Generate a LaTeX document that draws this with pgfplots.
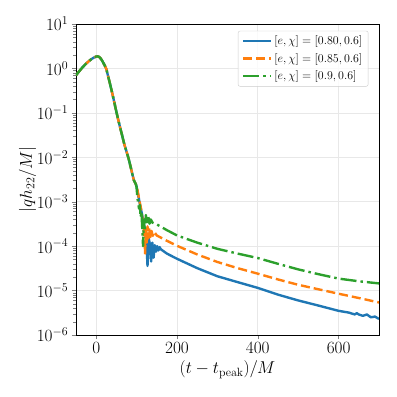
\documentclass[border=0pt]{standalone}
\usepackage{pgfplots}
\pgfplotsset{compat=1.18}
\definecolor{tabblue}{HTML}{1F77B4}
\definecolor{taborange}{HTML}{FF7F0E}
\definecolor{tabgreen}{HTML}{2CA02C}

\begin{document}
\begin{tikzpicture}
\path (-76bp,-62bp) rectangle (321bp,335bp);
\begin{axis}[
  at={(0bp,0bp)}, anchor=south west,
  scale only axis, width=303bp, height=311bp,
  ymode=log, xmin=-50, xmax=700, ymin=1e-6, ymax=10,
  xtick={0,200,400,600}, ytick={1e-6,1e-5,1e-4,1e-3,1e-2,1e-1,1,10},
  tick align=outside, xtick pos=bottom, ytick pos=left,
  grid=major, major grid style={black!9, line width=0.6pt},
  axis line style={line width=0.8pt},
  tick label style={font=\fontsize{16.5}{19}\selectfont},
  label style={font=\fontsize{17.5}{21}\selectfont},
  xlabel={$(t - t_{\mathrm{peak}})/M$},
  ylabel={$|q h_{22}/M|$},
  xlabel style={at={(axis description cs:0.5,-0.112)}, anchor=center},
  ylabel style={at={(axis description cs:-0.16,0.5)}, anchor=center},
  legend style={at={(0.965,0.978)}, anchor=north east,
    font=\fontsize{12.5}{15}\selectfont, draw=black!20, rounded corners=2pt,
    fill=white, fill opacity=0.8, text opacity=1, inner xsep=4pt, inner ysep=3pt,
    row sep=3pt},
  legend cell align=left,
  legend image code/.code={\draw[#1] (0bp,0bp) -- (28bp,0bp);},
  every axis plot/.append style={line width=2.4pt, line join=round},
]
% e = 0.80
\addplot[tabblue, solid] coordinates {
(-50,0.70)(-45,0.80)(-40,0.91)(-35,1.03)(-30,1.15)(-25,1.28)(-20,1.41)(-15,1.54)(-10,1.66)(-5,1.77)(0,1.85)(3,1.87)(6,1.84)(9,1.76)(12,1.63)(15,1.48)(18,1.32)(21,1.17)(25,0.98)(30,0.64)(35,0.42)(40,0.27)(45,0.17)(50,0.105)(55,0.067)(60,0.044)(65,0.029)(70,0.019)(75,0.0135)(80,0.0095)(85,0.0062)(90,0.0040)(93,0.0031)(96,0.0027)(98,0.0025)
(100,2.2e-3)(104,1.4e-3)(108,9e-4)(112,6e-4)(116,4e-4)(120,2.5e-4)(124,1.5e-4)(127,3.6e-5)(130,1.5e-4)(133,1.1e-4)(136,4.5e-5)(139,1.2e-4)(142,5.5e-5)(145,1.05e-4)(148,7.5e-5)(151,1.0e-4)(154,8e-5)(157,9.5e-5)(160,8.5e-5)(165,7.9e-5)
(175,6.8e-5)(200,5.2e-5)(250,3.2e-5)(300,2.1e-5)(350,1.55e-5)(400,1.15e-5)(450,8.1e-6)(500,6.0e-6)(550,4.6e-6)(600,3.5e-6)(625,3.2e-6)(640,2.9e-6)(645,3.1e-6)(650,2.9e-6)(660,2.7e-6)(670,2.9e-6)(680,2.5e-6)(690,2.6e-6)(700,2.3e-6)
};
\addlegendentry{$[e,\chi] = [0.80, 0.6]$}
% e = 0.85
\addplot[taborange, dash pattern=on 9bp off 4bp] coordinates {
(-50,0.70)(-45,0.80)(-40,0.91)(-35,1.03)(-30,1.15)(-25,1.28)(-20,1.41)(-15,1.54)(-10,1.66)(-5,1.77)(0,1.85)(3,1.87)(6,1.84)(9,1.76)(12,1.63)(15,1.48)(18,1.32)(21,1.17)(25,0.98)(30,0.64)(35,0.42)(40,0.27)(45,0.17)(50,0.105)(55,0.067)(60,0.044)(65,0.029)(70,0.019)(75,0.0135)(80,0.0095)(85,0.0062)(90,0.0040)(93,0.0031)(96,0.0027)(98,0.0025)
(100,2.3e-3)(104,1.5e-3)(108,9.5e-4)(111,7e-4)(114,4.5e-4)(117,3e-4)(119,1.5e-4)(121,6.8e-5)(123,2.5e-4)(125,1.2e-4)(127,2.8e-4)(129,1.5e-4)(131,2.5e-4)(134,1.6e-4)(137,2.2e-4)(140,1.7e-4)(143,2.1e-4)(147,1.9e-4)(150,1.74e-4)
(175,1.32e-4)(200,1.02e-4)(250,6.5e-5)(300,4.4e-5)(350,3.2e-5)(400,2.4e-5)(450,1.78e-5)(500,1.35e-5)(550,1.07e-5)(600,8.5e-6)(650,6.8e-6)(700,5.4e-6)
};
\addlegendentry{$[e,\chi] = [0.85, 0.6]$}
% e = 0.9
\addplot[tabgreen, dash pattern=on 16bp off 4bp on 2.5bp off 4bp] coordinates {
(-50,0.70)(-45,0.80)(-40,0.91)(-35,1.03)(-30,1.15)(-25,1.28)(-20,1.41)(-15,1.54)(-10,1.66)(-5,1.77)(0,1.85)(3,1.87)(6,1.84)(9,1.76)(12,1.63)(15,1.48)(18,1.32)(21,1.17)(25,0.98)(30,0.64)(35,0.42)(40,0.27)(45,0.17)(50,0.105)(55,0.067)(60,0.044)(65,0.029)(70,0.019)(75,0.0135)(80,0.0095)(85,0.0062)(90,0.0040)(93,0.0031)(96,0.0027)(98,0.0025)
(100,2.1e-3)(102,1.2e-3)(104,9.5e-4)(106,7e-4)(108,8.5e-4)(110,4.5e-4)(112,6e-4)(114,2.5e-4)(116,1e-4)(118,4e-4)(120,2.2e-4)(123,5e-4)(126,3e-4)(129,4.6e-4)(132,3.2e-4)(135,4e-4)(139,3.4e-4)(145,3.2e-4)(150,3.09e-4)
(175,2.29e-4)(200,1.74e-4)(250,1.20e-4)(300,8.7e-5)(350,6.8e-5)(400,5.4e-5)(450,4.0e-5)(500,3.0e-5)(550,2.34e-5)(600,1.86e-5)(650,1.62e-5)(700,1.45e-5)
};
\addlegendentry{$[e,\chi] = [0.9, 0.6]$}
\end{axis}
\end{tikzpicture}
\end{document}
